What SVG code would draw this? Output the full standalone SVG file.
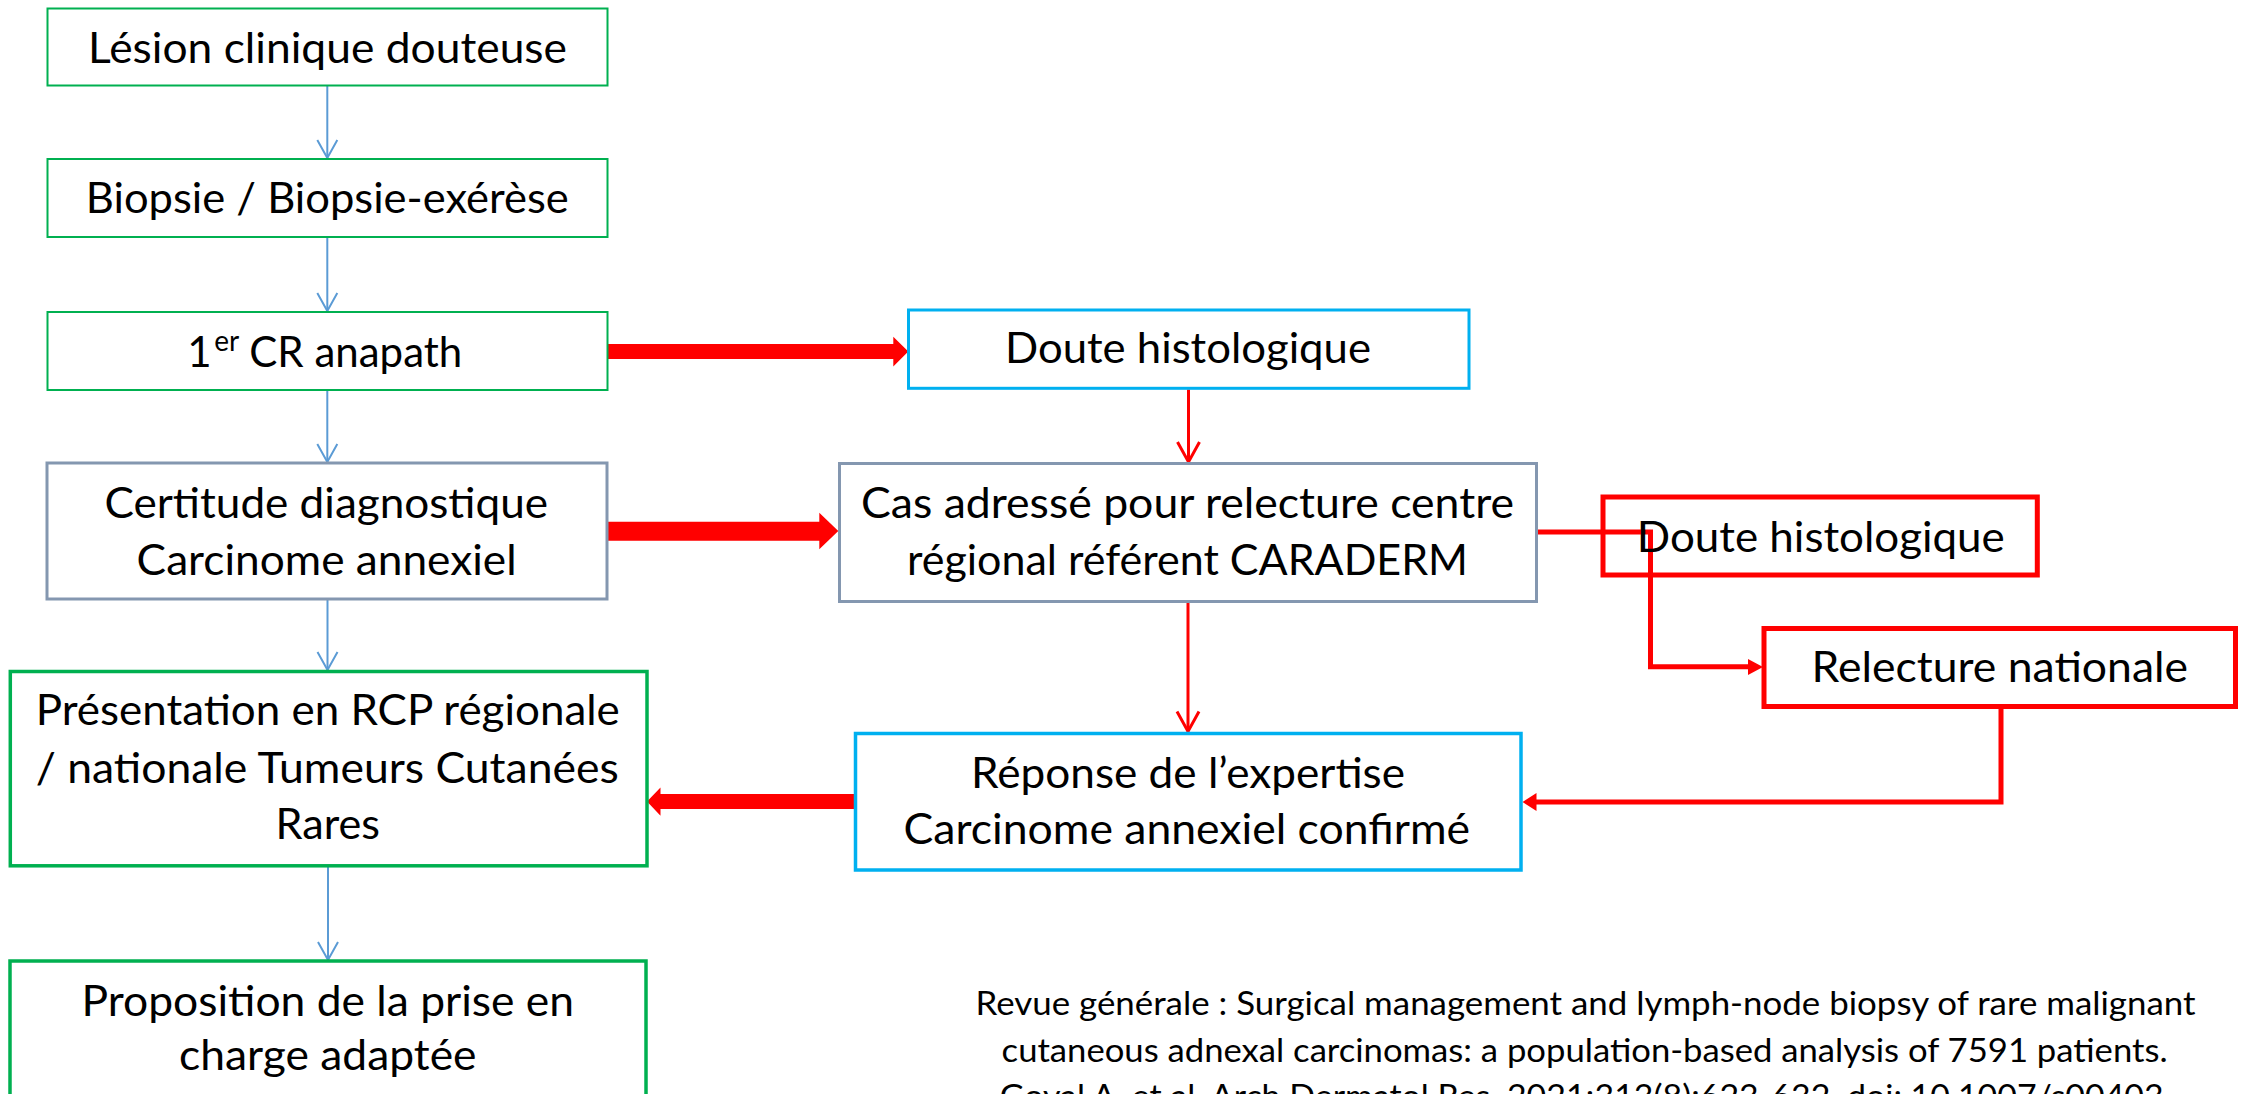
<svg xmlns="http://www.w3.org/2000/svg" width="2249" height="1094" viewBox="0 0 2249 1094">
<style>
text{font-family:Lato,"Liberation Sans",sans-serif;font-size:42px;fill:#000;text-anchor:middle}
.ref{font-size:32.5px}
.g1{fill:#fff;stroke:#00B050;stroke-width:2}
.g2{fill:#fff;stroke:#00B050;stroke-width:3.5}
.gr{fill:#fff;stroke:#8497B0;stroke-width:3}
.bl{fill:#fff;stroke:#00B0F0;stroke-width:3}
.bl2{fill:#fff;stroke:#00B0F0;stroke-width:3.5}
.rd{fill:none;stroke:#FF0000;stroke-width:5}
.cb{fill:none;stroke:#5B9BD5;stroke-width:2;marker-end:url(#vb)}
.cr{fill:none;stroke:#FF0000;stroke-width:3;marker-end:url(#vr)}
.cr5{fill:none;stroke:#FF0000;stroke-width:5}
.fr{fill:#FF0000;stroke:none}
</style>
<defs>
<marker id="vb" viewBox="0 0 24 24" refX="21" refY="12" markerWidth="24" markerHeight="24" markerUnits="userSpaceOnUse" orient="auto"><path d="M3,2 L21,12 L3,22" fill="none" stroke="#5B9BD5" stroke-width="2"/></marker>
<marker id="vr" viewBox="0 0 26 26" refX="22" refY="13" markerWidth="26" markerHeight="26" markerUnits="userSpaceOnUse" orient="auto"><path d="M2,2 L22,13 L2,24" fill="none" stroke="#FF0000" stroke-width="3"/></marker>
</defs>

<g id="connectors">
<path class="cb" d="M327.3,86 V158"/>
<path class="cb" d="M327.3,238 V311"/>
<path class="cb" d="M327.3,391 V462"/>
<path class="cb" d="M327.5,600 V670"/>
<path class="cb" d="M328,867 V960"/>
<path class="cr" d="M1188.5,389.5 V462"/>
<path class="cr" d="M1188,603 V731.5"/>
<polygon class="fr" points="607,344 893.3,344 893.3,336.7 908.3,351.5 893.3,366.5 893.3,359 607,359"/>
<polygon class="fr" points="607,521.7 819.3,521.7 819.3,512.7 838.3,531 819.3,549.3 819.3,540.7 607,540.7"/>
<polygon class="fr" points="855,794 660.5,794 660.5,787.6 647,801.5 660.5,815.8 660.5,809 855,809"/>
<path class="cr5" d="M1537.5,532 H1650.5 V666.7 H1749"/>
<polygon class="fr" points="1748,659 1763,667 1748,675"/>
<path class="cr5" d="M2001,707 V802 H1535"/>
<polygon class="fr" points="1536.5,793 1522.5,802 1536.5,811"/>
</g>

<g id="n1"><rect class="g1" x="47.5" y="8.5" width="560" height="77"/><text x="327.5" y="62.7" textLength="479" lengthAdjust="spacingAndGlyphs">Lésion clinique douteuse</text></g>
<g id="n2"><rect class="g1" x="47.5" y="159" width="560" height="78"/><text x="327.3" y="213.3" textLength="483" lengthAdjust="spacingAndGlyphs">Biopsie / Biopsie-exérèse</text></g>
<g id="n3"><rect class="g1" x="47.5" y="312" width="560" height="78"/><text x="187.3" y="367" style="text-anchor:start">1<tspan x="214.3" y="350.7" font-size="28">er</tspan><tspan x="249.3" y="367">CR anapath</tspan></text></g>
<g id="n4"><rect class="gr" x="47" y="463" width="560" height="136"/><text x="326.3" y="518" textLength="443.5" lengthAdjust="spacingAndGlyphs">Certitude diagnostique</text><text x="326.6" y="575" textLength="380" lengthAdjust="spacingAndGlyphs">Carcinome annexiel</text></g>
<g id="n5"><rect class="g2" x="10.3" y="671.5" width="636.7" height="194.3"/><text x="327.8" y="725" textLength="584" lengthAdjust="spacingAndGlyphs">Présentation en RCP régionale</text><text x="327.2" y="783" textLength="583" lengthAdjust="spacingAndGlyphs">/ nationale Tumeurs Cutanées</text><text x="327.8" y="839" textLength="104.5" lengthAdjust="spacingAndGlyphs">Rares</text></g>
<g id="n6"><rect class="g2" x="10" y="961" width="636" height="150"/><text x="327.8" y="1015.5" textLength="492.5" lengthAdjust="spacingAndGlyphs">Proposition de la prise en</text><text x="327.8" y="1070" textLength="297.5" lengthAdjust="spacingAndGlyphs">charge adaptée</text></g>
<g id="n7"><rect class="bl" x="908.5" y="310" width="560.5" height="78.3"/><text x="1188" y="363" textLength="366" lengthAdjust="spacingAndGlyphs">Doute histologique</text></g>
<g id="n8"><rect class="gr" x="839.5" y="463.5" width="697" height="138"/><text x="1187.5" y="518" textLength="653" lengthAdjust="spacingAndGlyphs">Cas adressé pour relecture centre</text><text x="1187.5" y="575" textLength="561" lengthAdjust="spacingAndGlyphs">régional référent CARADERM</text></g>
<g id="n9"><rect class="rd" x="1603" y="497" width="434.3" height="78"/><text x="1820.8" y="551.7" textLength="368" lengthAdjust="spacingAndGlyphs">Doute histologique</text></g>
<g id="n10"><rect class="rd" x="1764" y="628.5" width="471.5" height="78"/><text x="1999.8" y="681.7" textLength="376.5" lengthAdjust="spacingAndGlyphs">Relecture nationale</text></g>
<g id="n11"><rect class="bl2" x="855.5" y="733.5" width="665.5" height="136.5"/><text x="1188" y="788" textLength="434" lengthAdjust="spacingAndGlyphs">Réponse de l’expertise</text><text x="1186.8" y="844" textLength="566.5" lengthAdjust="spacingAndGlyphs">Carcinome annexiel confirmé</text></g>
<g id="ref"><text class="ref" x="1585.5" y="1015" textLength="1220" lengthAdjust="spacingAndGlyphs">Revue générale : Surgical management and lymph-node biopsy of rare malignant</text><text class="ref" x="1584.6" y="1061.7" textLength="1166" lengthAdjust="spacingAndGlyphs">cutaneous adnexal carcinomas: a population-based analysis of 7591 patients.</text><text class="ref" x="1581.7" y="1108" textLength="1164" lengthAdjust="spacingAndGlyphs">Goyal A, et al. Arch Dermatol Res. 2021;313(8):623-632. doi: 10.1007/s00403</text></g>
</svg>
